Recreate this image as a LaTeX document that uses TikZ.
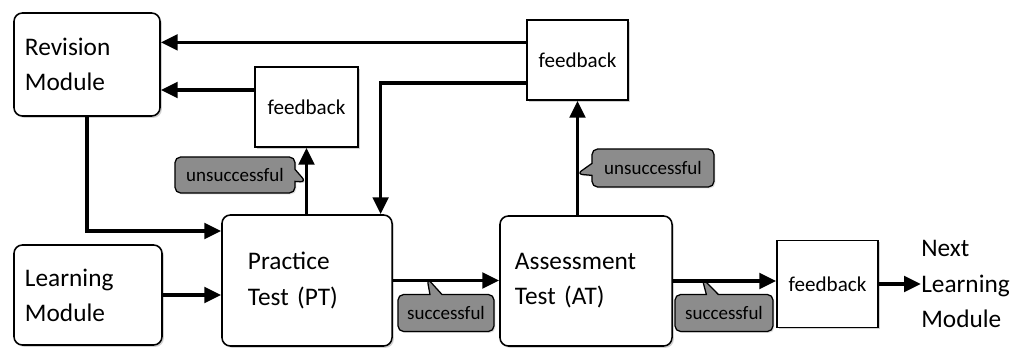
\documentclass[tikz,border=0pt]{standalone}
\usepackage{fontspec}
\setmainfont{Carlito}
\usetikzlibrary{arrows.meta,positioning,shapes.callouts,shadows}

\begin{document}
\begin{tikzpicture}[x=0.025cm,y=-0.025cm,
box/.style={draw,line width=1.1pt,fill=white,rounded corners=6pt,inner ysep=0pt,align=left,
  font=\fontsize{18}{25}\selectfont,drop shadow={shadow xshift=1.3pt,shadow yshift=-1.3pt,fill=black!35}},
fb/.style={draw,line width=1.1pt,fill=white,font=\fontsize{15}{18}\selectfont,
  drop shadow={shadow xshift=1.3pt,shadow yshift=-1.3pt,fill=black!35}},
tag/.style={rectangle callout,draw,line width=0.9pt,fill=black!45,rounded corners=4pt,
  font=\fontsize{13.5}{16}\selectfont,inner sep=0pt,callout pointer width=0.3cm,
  drop shadow={shadow xshift=1pt,shadow yshift=-1pt,fill=black!25}},
flow/.style={line width=2.6pt,-{Triangle[length=12pt,width=11pt]}}]
\useasboundingbox (0,0) rectangle (1014,350);
\node[box,minimum width=3.65cm,minimum height=2.575cm,text width=3.1cm,inner xsep=0.275cm] (R) at (87,64.5) {Revision\\Module};
\node[box,minimum width=3.7cm,minimum height=2.5cm,text width=3.15cm,inner xsep=0.275cm] (L) at (88,295) {Learning\\Module};
\node[box,minimum width=4.25cm,minimum height=3.275cm,text width=2.95cm,inner xsep=0.65cm] (P) at (307,280.5) {Practice\\Test (PT)};
\node[box,minimum width=4.3cm,minimum height=3.25cm,text width=3.55cm,inner xsep=0.375cm] (A) at (586,281) {Assessment\\Test (AT)};
\node[fb,minimum width=2.575cm,minimum height=2cm] (F) at (306.5,107) {feedback};
\node[fb,minimum width=2.525cm,minimum height=2cm] (F') at (577.5,60) {feedback};
\node[fb,minimum width=2.525cm,minimum height=2.175cm] (F'') at (827.5,284) {feedback};
\node[anchor=west,align=left,inner sep=0pt,font=\fontsize{18}{25.5}\selectfont] (N) at (921,284) {Next\\Learning\\Module};
% status tags
\node[tag,minimum width=3cm,minimum height=0.9cm,callout absolute pointer={(306,182)}] (U) at (235,175) {unsuccessful};
\node[tag,minimum width=3.05cm,minimum height=0.95cm,callout absolute pointer={(577,174)}] (U') at (653,168) {unsuccessful};
\node[tag,minimum width=2.4cm,minimum height=0.925cm,callout absolute pointer={(427,278)}] (S) at (446,313) {successful};
\node[tag,minimum width=2.45cm,minimum height=0.925cm,callout absolute pointer={(702,278)}] (S') at (724,313) {successful};
\draw[flow] (F'.161) -- (F'.161 -| R.east);
\draw[flow] (F.162) -- (F.162 -| R.east);
\draw[flow] (R.south) |- (P.150);
\draw[flow] (F'.204) -| (P.42);
\path[flow]
(L.east) edge (L.east -| P.west)
(F |- P.north) edge (F.south)
(F' |- A.north) edge (F'.south)
(P.east) edge (P.east -| A.west)
(A.east) edge (A.east -| F''.west)
(F''.east) edge (N.west);
\end{tikzpicture}
\end{document}
